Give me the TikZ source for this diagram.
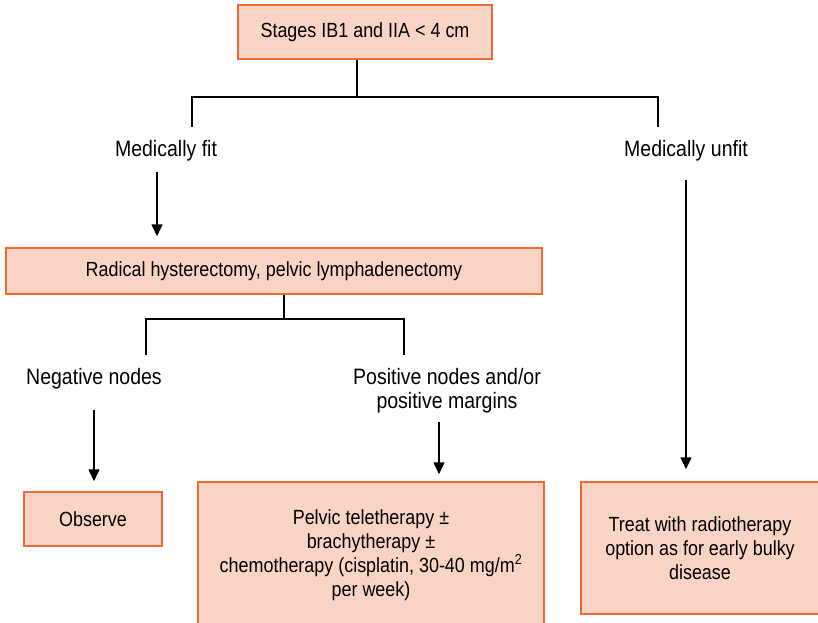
\documentclass[tikz,border=0pt]{standalone}
\usepackage{fontspec}
\setmainfont[FakeStretch=0.875]{Liberation Sans}
\usetikzlibrary{arrows.meta}
\definecolor{boxfill}{HTML}{F9D3C4}
\definecolor{boxline}{HTML}{EE6A30}
\begin{document}
\begin{tikzpicture}[x=1pt,y=-1pt,
  box/.style={draw=boxline,fill=boxfill,line width=1.5pt,inner sep=0pt,align=center,font=\fontsize{20.5}{24}\selectfont},
  lbl/.style={inner sep=0pt,align=center,font=\fontsize{22.3}{24}\selectfont},
  conn/.style={line width=1.5pt,black},
  arr/.style={line width=1.5pt,black,-{Triangle[width=11pt,length=12pt]}}]
\useasboundingbox (0,0) rectangle (818,622);
\node[box,minimum width=254pt,minimum height=54pt] (top) at (365,32) {Stages IB1 and IIA < 4 cm};
\node[lbl] (fit) at (166,151) {Medically fit};
\node[lbl] (unfit) at (686,151) {Medically unfit};
\node[box,minimum width=536pt,minimum height=46pt] (rh) at (274,271) {Radical hysterectomy, pelvic lymphadenectomy};
\node[lbl] (neg) at (94,379) {Negative nodes};
\node[lbl] (pos) at (447,391) {Positive nodes and/or\\positive margins};
\node[box,minimum width=138pt,minimum height=54pt] (obs) at (93,519) {Observe};
\node[box,minimum width=346pt,minimum height=146pt] (pel) at (371,555) {Pelvic teletherapy ±\\brachytherapy ±\\chemotherapy (cisplatin, 30-40 mg/m\textsuperscript{2}\\per week)};
\node[box,minimum width=238pt,minimum height=132pt] (tr) at (700,548) {Treat with radiotherapy\\option as for early bulky\\disease};
% top split
\coordinate (s1) at (357,97);
\coordinate (fitT) at (192,127);
\coordinate (unfitT) at (658,127);
\draw[conn] (top.south -| s1) -- (s1);
\draw[conn] (fitT) -- (fitT |- s1) -- (unfitT |- s1) -- (unfitT);
% arrows
\coordinate (fa) at (157,172);
\coordinate (ua) at (686,180);
\draw[arr] (fa) -- ([yshift=11pt]fa |- rh.north);
\draw[arr] (ua) -- ([yshift=12pt]ua |- tr.north);
% second split
\coordinate (s2) at (284,319);
\coordinate (negT) at (146,355);
\coordinate (posT) at (404,355);
\draw[conn] (rh.south -| s2) -- (s2);
\draw[conn] (negT) -- (negT |- s2) -- (posT |- s2) -- (posT);
\coordinate (na) at (94,410);
\coordinate (pa) at (439,422);
\draw[arr] (na) -- ([yshift=10pt]na |- obs.north);
\draw[arr] (pa) -- ([yshift=7pt]pa |- pel.north);
\end{tikzpicture}
\end{document}
